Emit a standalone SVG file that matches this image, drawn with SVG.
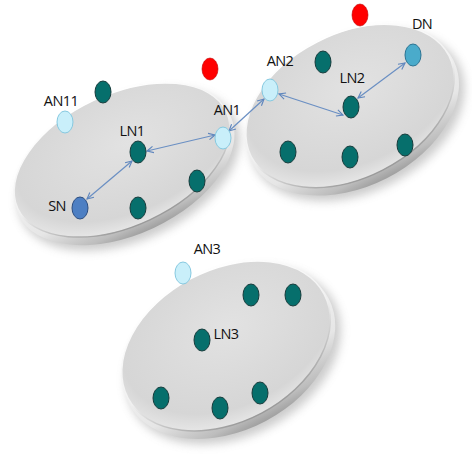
<svg xmlns="http://www.w3.org/2000/svg" width="472" height="454" viewBox="0 0 472 454">
<defs>
<radialGradient id="face" cx="55%" cy="40%" r="60%">
<stop offset="0" stop-color="#e2e2e2"/>
<stop offset="0.85" stop-color="#d6d6d6"/>
<stop offset="1" stop-color="#e4e4e4"/>
</radialGradient>
<linearGradient id="faceEdge" x1="0" y1="0" x2="0" y2="1">
<stop offset="0" stop-color="#ffffff"/>
<stop offset="0.55" stop-color="#f0f0f0"/>
<stop offset="1" stop-color="#9a9a9a"/>
</linearGradient>
<linearGradient id="rim" x1="0" y1="0" x2="0" y2="1">
<stop offset="0" stop-color="#ffffff"/>
<stop offset="0.7" stop-color="#e6e6e6"/>
<stop offset="0.92" stop-color="#bdbdbd"/>
<stop offset="1" stop-color="#a0a0a0"/>
</linearGradient>
<filter id="blur" x="-20%" y="-20%" width="140%" height="140%"><feGaussianBlur stdDeviation="5"/></filter>
<marker id="ah" viewBox="0 0 10 10" refX="9" refY="5" markerWidth="8" markerHeight="8" orient="auto-start-reverse" markerUnits="userSpaceOnUse">
<path d="M1,1 L9,5 L1,9" fill="none" stroke="#5f86bd" stroke-width="1.4"/>
</marker>
</defs>
<style>
.lbl{font-family:"Open Sans","Liberation Sans",sans-serif;font-size:14.5px;letter-spacing:-0.6px;fill:#111111;text-anchor:middle}
.teal{fill:#066f6c;stroke:#173c3c;stroke-width:1}
.an{fill:#c9effa;stroke:#86c9e0;stroke-width:1}
.red{fill:#ff0000;stroke:#c00000;stroke-width:0.6}
.sn{fill:#4d7fc3;stroke:#2c4d80;stroke-width:1}
.dn{fill:#4aabcb;stroke:#2b7392;stroke-width:1}
.edge{stroke:#6a8fc3;stroke-width:1.2;fill:none;marker-start:url(#ah);marker-end:url(#ah)}
.shadow{fill:#808080;opacity:0.4;filter:url(#blur)}
.rimE{fill:url(#rim)}
.faceE{fill:url(#face);stroke:url(#faceEdge);stroke-width:1.5}
</style>
<rect width="472" height="454" fill="#ffffff"/>
<g id="disc1" transform="translate(122,160) rotate(-25)">
<ellipse class="shadow" cx="2" cy="12" rx="118" ry="70"/>
<ellipse class="rimE" cx="0" cy="6" rx="117" ry="69"/>
<ellipse class="faceE" cx="0" cy="0" rx="115" ry="66"/>
</g>
<g id="disc2" transform="translate(350,106) rotate(-27)">
<ellipse class="shadow" cx="2" cy="12" rx="114" ry="76"/>
<ellipse class="rimE" cx="0" cy="6" rx="113" ry="75"/>
<ellipse class="faceE" cx="0" cy="0" rx="111" ry="72"/>
</g>
<g id="disc3" transform="translate(226,346) rotate(-28)">
<ellipse class="shadow" cx="2" cy="12" rx="114" ry="80"/>
<ellipse class="rimE" cx="0" cy="6" rx="113" ry="79"/>
<ellipse class="faceE" cx="0" cy="0" rx="111" ry="76"/>
</g>
<g id="connectors">
<line class="edge" x1="87" y1="199" x2="132" y2="161"/>
<line class="edge" x1="147" y1="151" x2="215" y2="135"/>
<line class="edge" x1="229" y1="131" x2="264" y2="99"/>
<line class="edge" x1="279" y1="94" x2="343" y2="115"/>
<line class="edge" x1="358" y1="98" x2="405" y2="63"/>
</g>
<g id="red1"><ellipse class="red" cx="210" cy="69" rx="8" ry="11"/></g>
<g id="red2"><ellipse class="red" cx="360" cy="15" rx="8" ry="11"/></g>
<g id="AN11"><ellipse class="an" cx="65" cy="122" rx="8" ry="11"/><text class="lbl" x="61" y="106">AN11</text></g>
<g id="n1"><ellipse class="teal" cx="103" cy="92" rx="8" ry="11"/></g>
<g id="LN1"><ellipse class="teal" cx="138" cy="152" rx="8" ry="11"/><text class="lbl" x="132" y="136">LN1</text></g>
<g id="SN"><ellipse class="sn" cx="80" cy="208" rx="8" ry="11"/><text class="lbl" x="57" y="211">SN</text></g>
<g id="n2"><ellipse class="teal" cx="197" cy="181" rx="8" ry="11"/></g>
<g id="n3"><ellipse class="teal" cx="138" cy="208" rx="8" ry="11"/></g>
<g id="AN1"><ellipse class="an" cx="223" cy="138" rx="8" ry="11"/><text class="lbl" x="227" y="115">AN1</text></g>
<g id="AN2"><ellipse class="an" cx="270" cy="90" rx="8" ry="11"/><text class="lbl" x="280" y="66">AN2</text></g>
<g id="n4"><ellipse class="teal" cx="323" cy="62" rx="8" ry="11"/></g>
<g id="LN2"><ellipse class="teal" cx="351" cy="107" rx="8" ry="11"/><text class="lbl" x="352" y="83">LN2</text></g>
<g id="DN"><ellipse class="dn" cx="413" cy="55" rx="8" ry="11"/><text class="lbl" x="422" y="29">DN</text></g>
<g id="n5"><ellipse class="teal" cx="288" cy="152" rx="8" ry="11"/></g>
<g id="n6"><ellipse class="teal" cx="350" cy="157" rx="8" ry="11"/></g>
<g id="n7"><ellipse class="teal" cx="405" cy="145" rx="8" ry="11"/></g>
<g id="AN3"><ellipse class="an" cx="183" cy="273" rx="8" ry="11"/><text class="lbl" x="207" y="254">AN3</text></g>
<g id="n8"><ellipse class="teal" cx="251" cy="295" rx="8" ry="11"/></g>
<g id="n9"><ellipse class="teal" cx="293" cy="295" rx="8" ry="11"/></g>
<g id="LN3"><ellipse class="teal" cx="202" cy="340" rx="8" ry="11"/><text class="lbl" x="226" y="339">LN3</text></g>
<g id="n10"><ellipse class="teal" cx="161" cy="398" rx="8" ry="11"/></g>
<g id="n11"><ellipse class="teal" cx="220" cy="408" rx="8" ry="11"/></g>
<g id="n12"><ellipse class="teal" cx="260" cy="393" rx="8" ry="11"/></g>
</svg>
